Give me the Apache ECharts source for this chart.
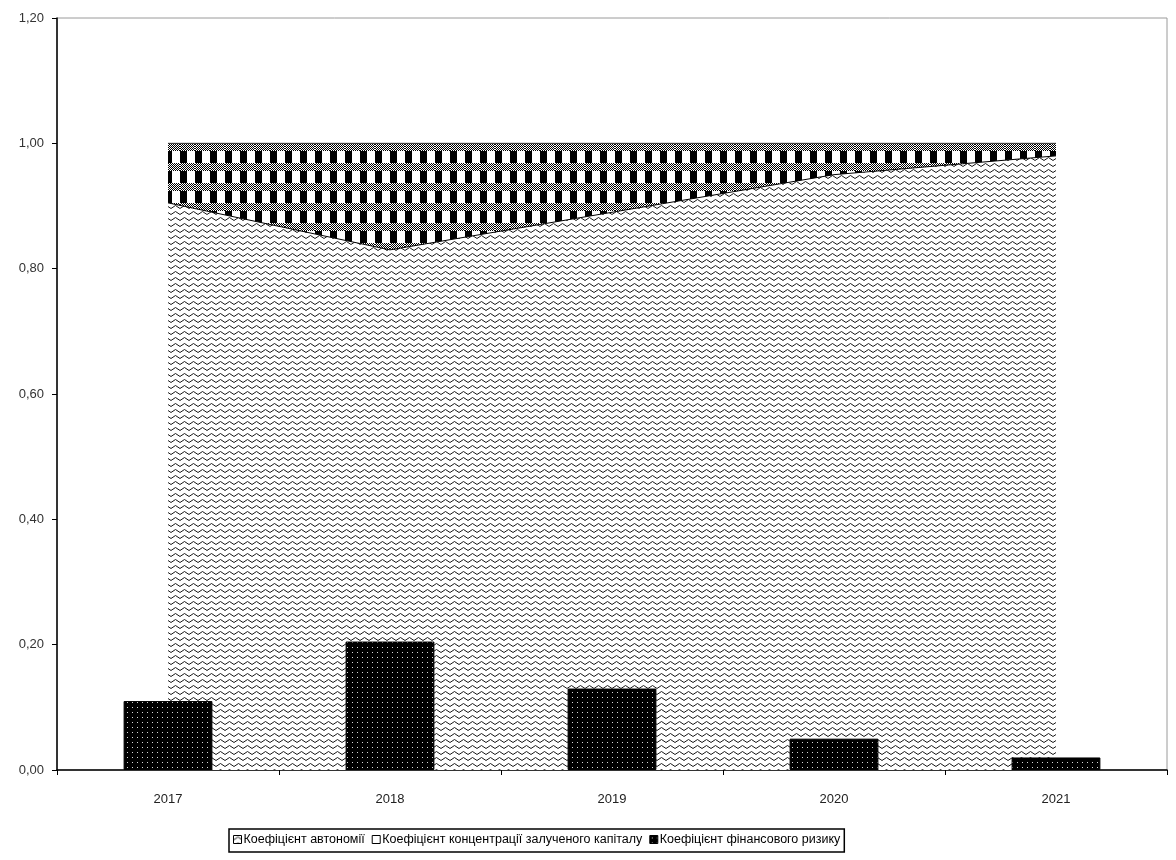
<!DOCTYPE html>
<html>
<head>
<meta charset="utf-8">
<script src="https://cdn.jsdelivr.net/npm/echarts@6/dist/echarts.min.js"></script>
<style>
  html, body { margin: 0; padding: 0; background: #fff; }
  #chart { width: 1176px; height: 860px; }
</style>
</head>
<body>
<div id="chart"></div>
<script>
// Capital structure coefficients by year
const years = ['2017', '2018', '2019', '2020', '2021'];
const autonomy = [0.905, 0.83, 0.89, 0.95, 0.98];
const borrowedConcentration = [0.095, 0.17, 0.11, 0.05, 0.02];
const financialRisk = [0.11, 0.205, 0.13, 0.05, 0.02];
const seriesNames = [
  'Коефіцієнт автономії',
  'Коефіцієнт концентрації залученого капіталу',
  'Коефіцієнт фінансового ризику'
];
const yMin = 0, yMax = 1.2, yStep = 0.2;

const FONT = '"Liberation Sans", Arial, sans-serif';

// Small canvas tiles used as fill patterns
function tile(w, h, draw) {
  const c = document.createElement('canvas');
  c.width = w; c.height = h;
  draw(c.getContext('2d'), w, h);
  return c;
}
const zigzagTile = tile(9, 6, (g, w, h) => {
  g.fillStyle = '#fff'; g.fillRect(0, 0, w, h);
  g.strokeStyle = '#1a1a1a'; g.lineWidth = 1;
  g.beginPath(); g.moveTo(0, 4.5); g.lineTo(4.5, 1.5); g.lineTo(9, 4.5); g.stroke();
});
const checkTile = tile(15, 20, (g, w, h) => {
  g.fillStyle = '#fff'; g.fillRect(0, 0, w, h);
  g.fillStyle = '#000';
  for (let y = 0; y < h; y++) {
    if (y >= 3 && y < 11) {
      for (let x = 0; x < w; x++) if ((x + y) % 2 === 0) g.fillRect(x, y, 1, 1);
    } else {
      g.fillRect(0, y, 7, 1);
    }
  }
});
const dotTile = tile(5, 5, (g, w, h) => {
  g.fillStyle = '#000'; g.fillRect(0, 0, w, h);
  g.fillStyle = '#d8d8d8'; g.fillRect(2, 2, 1, 1);
});
const zigzag = { image: zigzagTile, repeat: 'repeat' };
const checks = { image: checkTile, repeat: 'repeat' };
const dots = { image: dotTile, repeat: 'repeat' };

const chart = echarts.init(document.getElementById('chart'), null, { renderer: 'canvas' });
chart.setOption({
  animation: false,
  backgroundColor: '#fff',
  grid: {
    left: 57, right: 9, top: 18, bottom: 90,
    show: true, borderColor: '#9a9a9a', borderWidth: 1, backgroundColor: 'transparent'
  },
  legend: {
    left: 229, top: 829,
    orient: 'horizontal',
    borderColor: '#000', borderWidth: 1.5,
    padding: [4, 4, 6, 4],
    itemGap: 7, itemWidth: 8, itemHeight: 8,
    selectedMode: false,
    textStyle: { fontFamily: FONT, fontSize: 12.5, color: '#000', padding: [0, 0, 0, -3] },
    data: [
      { name: seriesNames[0], icon: 'rect', itemStyle: { color: zigzag, borderColor: '#000', borderWidth: 1 } },
      { name: seriesNames[1], icon: 'rect', itemStyle: { color: '#fff', borderColor: '#000', borderWidth: 1 } },
      { name: seriesNames[2], icon: 'rect', itemStyle: { color: dots, borderColor: '#000', borderWidth: 1 } }
    ]
  },
  xAxis: {
    type: 'category',
    data: years,
    boundaryGap: true,
    axisLine: { lineStyle: { color: '#000', width: 1.5 } },
    axisTick: { show: true, length: 5, lineStyle: { color: '#000' } },
    axisLabel: { color: '#222', fontFamily: FONT, fontSize: 13, margin: 23 },
    splitLine: { show: false }
  },
  yAxis: {
    type: 'value',
    min: yMin, max: yMax, interval: yStep,
    axisLine: { show: true, lineStyle: { color: '#000', width: 1.5 } },
    axisTick: { show: true, length: 5, lineStyle: { color: '#000' } },
    axisLabel: {
      color: '#333', fontFamily: FONT, fontSize: 13, margin: 13,
      formatter: v => v.toFixed(2).replace('.', ',')
    },
    splitLine: { show: false }
  },
  series: [
    {
      name: seriesNames[0], type: 'line', stack: 'share',
      data: autonomy, symbol: 'none', z: 1,
      lineStyle: { color: '#000', width: 1 },
      areaStyle: { color: zigzag, opacity: 1 },
      emphasis: { disabled: true }
    },
    {
      name: seriesNames[1], type: 'line', stack: 'share',
      data: borrowedConcentration, symbol: 'none', z: 1,
      lineStyle: { color: '#333', width: 1 },
      areaStyle: { color: checks, opacity: 1 },
      emphasis: { disabled: true }
    },
    {
      name: seriesNames[2], type: 'bar',
      data: financialRisk, barWidth: '40%', z: 3,
      itemStyle: { color: dots, borderColor: '#000', borderWidth: 1 },
      emphasis: { disabled: true }
    }
  ]
});
</script>
</body>
</html>
